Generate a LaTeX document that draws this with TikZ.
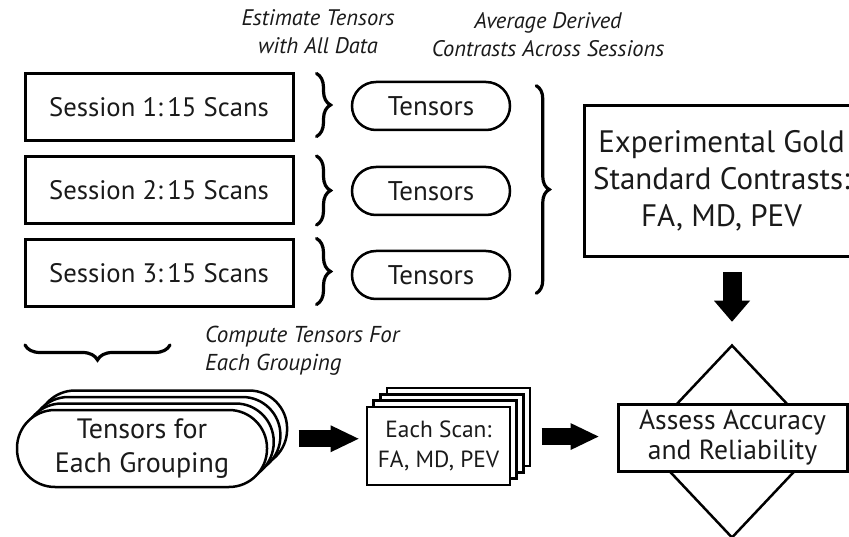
\documentclass[tikz,border=0pt]{standalone}
\usepackage{fontspec}
\setmainfont{PT Sans}
\usetikzlibrary{arrows.meta,decorations.pathreplacing,shapes.geometric,fit,calc}

\definecolor{ink}{HTML}{1A1A1A}

\tikzset{
  base/.style={text=ink, inner sep=0pt, align=center},
  sessbox/.style={base, draw, line width=3pt, minimum width=268pt, minimum height=67pt,
    font=\fontsize{26.7}{30}\selectfont},
  pill/.style={base, draw, line width=2.5pt, rounded corners=24pt,
    minimum width=158pt, minimum height=48pt, font=\fontsize{27}{30}\selectfont},
  bigpill/.style={base, draw, fill=white, line width=2.5pt, rounded corners=38pt,
    minimum width=250pt, minimum height=77pt, font=\fontsize{28}{34}\selectfont},
  scanbox/.style={base, draw, fill=white, line width=2.5pt,
    minimum width=143pt, minimum height=78pt, font=\fontsize{23.4}{30}\selectfont},
  note/.style={base, font=\fontsize{22.5}{28}\selectfont\itshape},
  brc/.style={decorate, decoration={brace, amplitude=#1}, line width=3.2pt, line cap=round},
  fat/.style={line width=17pt, -{Triangle[length=28pt, width=27pt, line width=0pt]}},
}

\begin{document}
\begin{tikzpicture}[x=1pt, y=-1pt]
  \clip (0,0) rectangle (849,537);
  \useasboundingbox (0,0) rectangle (849,537);

  % headings
  \node[note] (hdA) at (318,32) {Estimate Tensors\\with All Data};
  \node[note] (hdB) at (548,35) {Average Derived\\Contrasts Across Sessions};

  % sessions
  \node[sessbox] (s1) at (159,107.5) {Session 1:\,15 Scans};
  \node[sessbox] (s2) at (159,190)   {Session 2:\,15 Scans};
  \node[sessbox] (s3) at (159,273.5) {Session 3:\,15 Scans};

  % per-session tensors
  \node[pill] (t1) at (431,106) {Tensors};
  \node[pill] (t2) at (431,191) {Tensors};
  \node[pill] (t3) at (431,275) {Tensors};

  % braces grouping sessions
  \draw[brc=14pt] ($(s1.north east)+(22,1)$) -- ($(s1.south east)+(22,-6)$);
  \draw[brc=14pt] ($(s2.north east)+(22,1)$) -- ($(s2.south east)+(22,0)$);
  \draw[brc=14pt] ($(s3.north east)+(22,0)$) -- ($(s3.south east)+(22,-4)$);
  \draw[brc=13pt] ($(t1.north east)+(25,5)$) -- ($(t3.south east)+(25,-7)$);
  \draw[brc=15pt] (170,345) -- (25,345);

  % gold standard (the frame runs on past the right edge)
  \node[base, minimum width=273pt, minimum height=150pt,
        font=\fontsize{31}{37}\selectfont] (gold) at (721.5,181)
        {Experimental Gold\\Standard Contrasts:\\FA, MD, PEV};
  \draw[line width=3pt] (gold.north west) rectangle ($(gold.south east)+(30,0)$);

  \node[note, font=\fontsize{23}{28}\selectfont\itshape, align=left, anchor=west] (hdC)
        at (205,351) {Compute Tensors For\\Each Grouping};

  % stack of grouping tensors
  \foreach \k in {3,2,1} {
    \node[bigpill] (grp\k) at ({142+6.7*\k},{448.5-6.5*\k}) {};
  }
  \node[bigpill] (grp) at (142,448.5) {Tensors for\\Each Grouping};
  \node[fit=(grp)(grp3), inner sep=0pt] (grpall) {};

  % stack of per-scan contrasts
  \foreach \k in {3,2,1} {
    \node[scanbox] (scan\k) at ({438.5+6.7*\k},{446-6.3*\k}) {};
  }
  \node[scanbox] (scan) at (438.5,446) {Each Scan:\\FA, MD, PEV};
  \node[fit=(scan)(scan3), inner sep=0pt] (scanall) {};

  % assessment
  \node[base, draw, line width=2.5pt, diamond, minimum width=182pt, minimum height=193pt]
        (dia) at (732,441.5) {};
  \node[base, draw, fill=white, line width=3pt, minimum width=229pt, minimum height=67pt,
        font=\fontsize{27.6}{30}\selectfont] (assess) at (732.5,437.5)
        {Assess Accuracy\\and Reliability};

  % block arrows
  \draw[fat, shorten <=10pt, shorten >=7pt] (grpall.east) -- (grpall.east -| scanall.west);
  \draw[fat, shorten <=10pt, shorten >=18pt] (scanall.east) -- (scanall.east -| assess.west);
  \draw[line width=19pt, -{Triangle[length=21pt, width=36pt, line width=0pt]},
        shorten <=16pt, shorten >=22pt] (dia.north |- gold.south) -- (dia.north);
\end{tikzpicture}
\end{document}
